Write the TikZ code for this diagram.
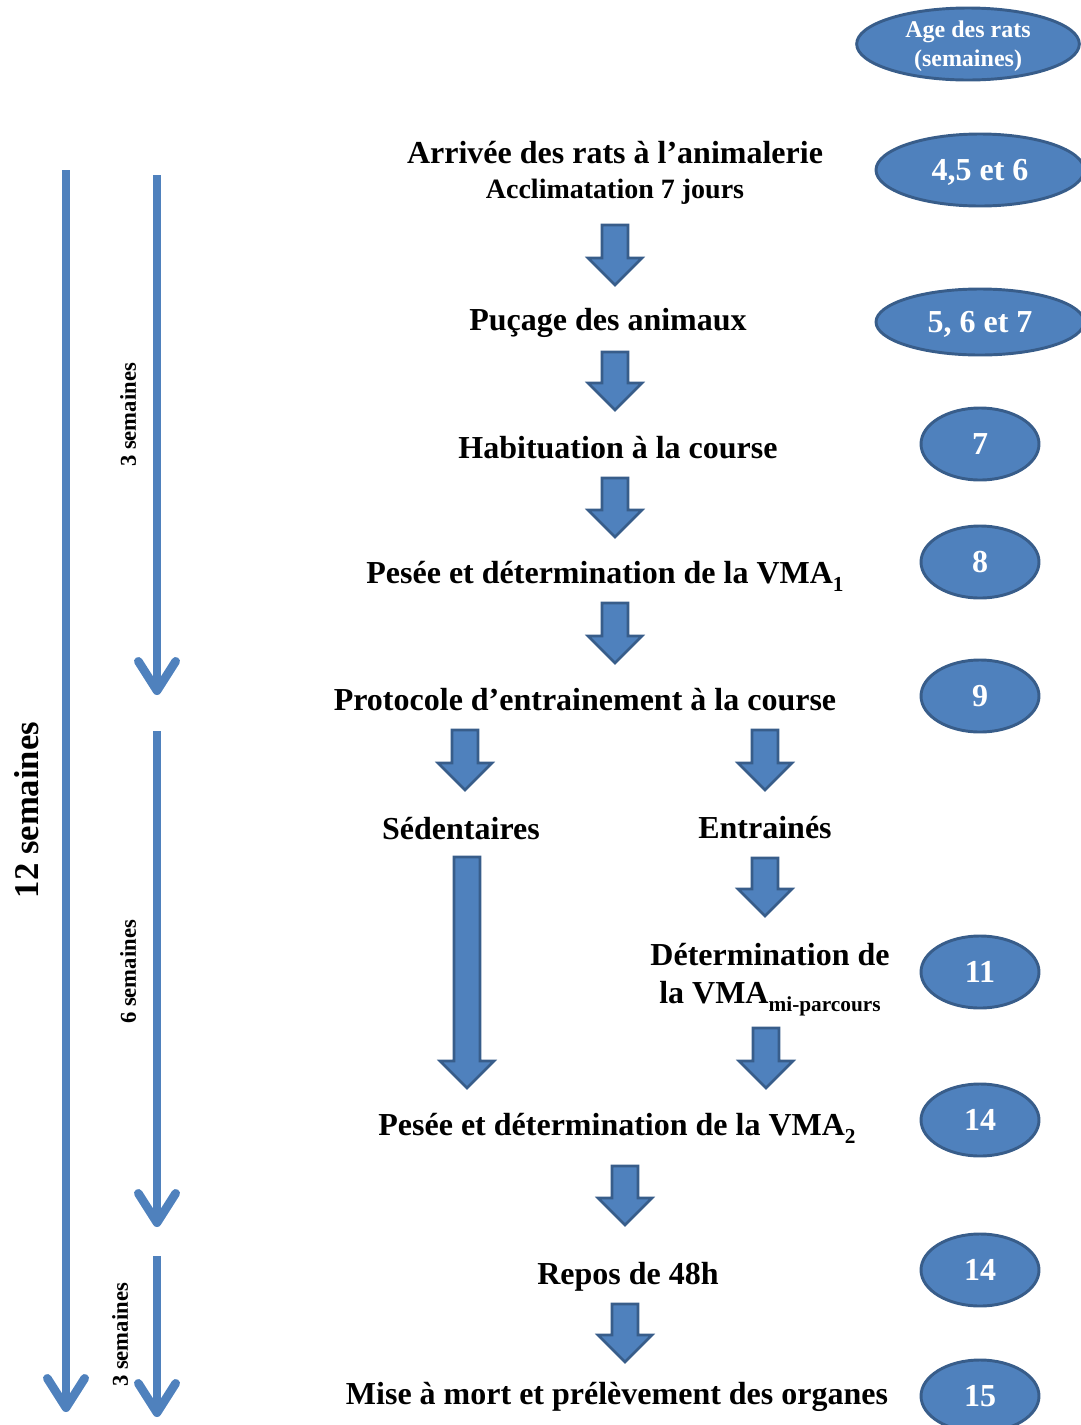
\documentclass[tikz,border=0pt]{standalone}
\usepackage{fontspec}
\setmainfont{Liberation Serif}
\usetikzlibrary{shapes.geometric,arrows.meta}
\definecolor{bleu}{HTML}{4F81BD}
\definecolor{bleufonce}{HTML}{385D8A}
\tikzset{
  age/.style={ellipse,fill=bleu,draw=bleufonce,line width=2.2pt,text=white,inner sep=0pt,text depth=0pt,
    font=\fontsize{24}{28}\selectfont\bfseries},
  etape/.style={anchor=base,inner sep=0pt,align=center,font=\fontsize{24}{28.5}\selectfont\bfseries},
  fleche/.style={fill=bleu,draw=bleufonce,line width=2pt,line join=miter},
  duree/.style={draw=bleu,line width=6.5pt,-{Straight Barb[length=22pt,width=28pt,round]}},
  semaines/.style={rotate=90,inner sep=0pt,font=\fontsize{17}{20}\selectfont\bfseries}
}
\newcommand{\vmaidx}[1]{\raisebox{-6pt}{\fontsize{16}{16}\selectfont #1}}
% bloc fleche : x, haut, pointe
\newcommand{\blocfleche}[3]{\draw[fleche] (#1-13,#2) -- (#1+13,#2) -- (#1+13,#3-27) -- (#1+27,#3-27) -- (#1,#3) -- (#1-27,#3-27) -- (#1-13,#3-27) -- cycle;}
\begin{document}
\begin{tikzpicture}[x=0.75pt,y=-0.75pt]
	\useasboundingbox (0,0) rectangle (1081,1425);
	% ages des rats
	\node[age,minimum width=167pt,minimum height=54pt,font=\fontsize{18}{21.75}\selectfont\bfseries,align=center] (ageT) at (968,44) {Age des rats\\(semaines)};
	\node[age,minimum width=156pt,minimum height=54pt] (age1) at (980,170) {4,5 et 6};
	\node[age,minimum width=156pt,minimum height=49.5pt] (age2) at (980,322) {5, 6 et 7};
	\node[age,minimum width=88.5pt,minimum height=54pt] (age3) at (980,444) {7};
	\node[age,minimum width=88.5pt,minimum height=54pt] (age4) at (980,562) {8};
	\node[age,minimum width=88.5pt,minimum height=54pt] (age5) at (980,696) {9};
	\node[age,minimum width=88.5pt,minimum height=54pt] (age6) at (980,972) {11};
	\node[age,minimum width=88.5pt,minimum height=54pt] (age7) at (980,1120) {14};
	\node[age,minimum width=88.5pt,minimum height=54pt] (age8) at (980,1270) {14};
	\node[age,minimum width=88.5pt,minimum height=54pt] (age9) at (980,1396) {15};
	% etapes
	\node[etape] (arrivee) at (615,163) {Arrivée des rats à l’animalerie};
	\node[etape,font=\fontsize{21}{24}\selectfont\bfseries] (acclim) at (615,198) {Acclimatation 7 jours};
	\node[etape] (pucage) at (608,330) {Puçage des animaux};
	\node[etape] (habit) at (618,458) {Habituation à la course};
	\node[etape] (pesee1) at (605,583) {Pesée et détermination de la VMA\vmaidx{1}};
	\node[etape] (proto) at (585,710) {Protocole d’entrainement à la course};
	\node[etape] (sed) at (461,839) {Sédentaires};
	\node[etape] (entr) at (765,838) {Entrainés};
	\node[etape] (detmi) at (770,1003) {Détermination de\\la VMA\vmaidx{mi-parcours}};
	\node[etape] (pesee2) at (617,1135) {Pesée et détermination de la VMA\vmaidx{2}};
	\node[etape] (repos) at (628,1284) {Repos de 48h};
	\node[etape] (mort) at (617,1404) {Mise à mort et prélèvement des organes};
	% fleches entre etapes
	\blocfleche{615}{225}{285}
	\blocfleche{615}{352}{410}
	\blocfleche{615}{478}{537}
	\blocfleche{615}{603}{663}
	\blocfleche{465}{730}{790}
	\blocfleche{765}{730}{790}
	\blocfleche{765}{858}{916}
	\blocfleche{467}{857}{1088}
	\blocfleche{766}{1028}{1088}
	\blocfleche{625}{1166}{1225}
	\blocfleche{625}{1304}{1362}
	% durees
	\draw[duree] (66,170) -- (66,1412);
	\draw[duree] (157,175) -- (157,695);
	\draw[duree] (157,731) -- (157,1227);
	\draw[duree] (157,1256) -- (157,1417);
	\node[semaines,font=\fontsize{26}{30}\selectfont\bfseries] (s12) at (27,810) {12 semaines};
	\node[semaines] (s3a) at (128,415) {3 semaines};
	\node[semaines] (s6) at (128,972) {6 semaines};
	\node[semaines] (s3b) at (120,1335) {3 semaines};
\end{tikzpicture}
\end{document}
